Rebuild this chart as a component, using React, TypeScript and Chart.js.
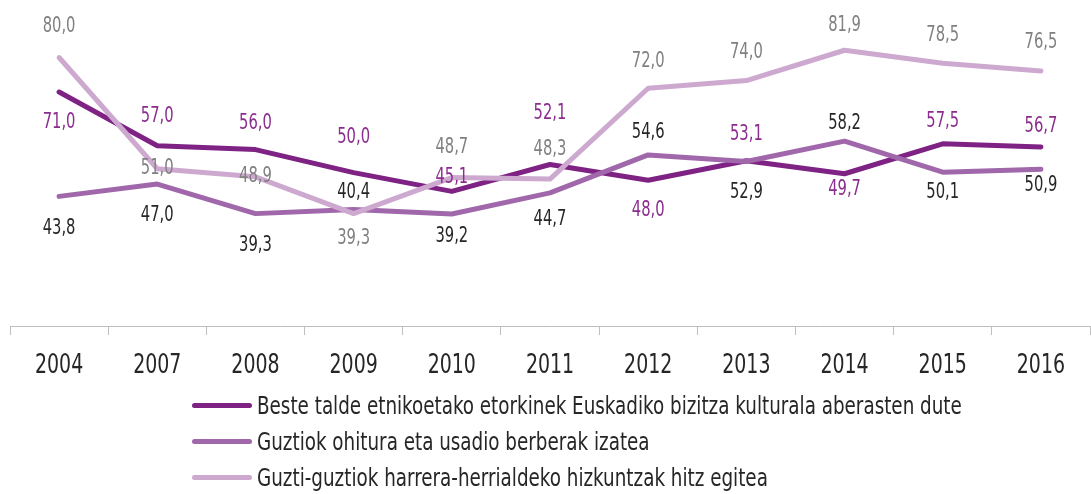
import React, { useEffect, useRef } from "react";
import { Chart, registerables } from "chart.js";

Chart.register(...registerables);

const years = ["2004", "2007", "2008", "2009", "2010", "2011", "2012", "2013", "2014", "2015", "2016"];

const seriesNames = [
  "Beste talde etnikoetako etorkinek Euskadiko bizitza kulturala aberasten dute",
  "Guztiok ohitura eta usadio berberak izatea",
  "Guzti-guztiok harrera-herrialdeko hizkuntzak hitz egitea",
];

const enrichCulture = [71.0, 57.0, 56.0, 50.0, 45.1, 52.1, 48.0, 53.1, 49.7, 57.5, 56.7];
const sameCustoms = [43.8, 47.0, 39.3, 40.4, 39.2, 44.7, 54.6, 52.9, 58.2, 50.1, 50.9];
const speakLanguages = [80.0, 51.0, 48.9, 39.3, 48.7, 48.3, 72.0, 74.0, 81.9, 78.5, 76.5];

const lineColors = ["#7e2283", "#a068ab", "#cda9d0"];
const labelColors = ["#8b2d8e", "#262626", "#808080"];
// vertical offsets (px) of each value label from its point
const labelOffsets = [
  [30, -29, -26, -35, -14, -51, 30, -26, 16, -22, -20],
  [32, 31, 32, -17, 23, 27, -22, 31, -18, 20, 16],
  [-31, 0, 0, 25, -30, -30, -27, -28, -25, -28, -28],
];

const FONT = "'DejaVu Sans Condensed', 'Liberation Sans Narrow', sans-serif";
const TEXT_SQUEEZE = 0.78;

function squeezedText(ctx: CanvasRenderingContext2D, text: string, x: number, y: number) {
  ctx.save();
  ctx.translate(x, y);
  ctx.scale(TEXT_SQUEEZE, 1);
  ctx.fillText(text, 0, 0);
  ctx.restore();
}

const labelsPlugin = {
  id: "valueLabels",
  afterDatasetsDraw(chart: any) {
    const ctx = chart.ctx as CanvasRenderingContext2D;
    ctx.save();
    ctx.font = `21px ${FONT}`;
    ctx.textAlign = "center";
    ctx.textBaseline = "middle";
    chart.data.datasets.forEach((ds: any, di: number) => {
      const meta = chart.getDatasetMeta(di);
      meta.data.forEach((pt: any, i: number) => {
        const v = ds.data[i] as number;
        ctx.fillStyle = labelColors[di];
        squeezedText(ctx, v.toFixed(1).replace(".", ","), pt.x, pt.y + labelOffsets[di][i]);
      });
    });
    // category labels of the x axis
    const xs = chart.scales.x;
    ctx.font = `27px ${FONT}`;
    ctx.fillStyle = "#262626";
    chart.data.labels.forEach((lab: string, i: number) => {
      squeezedText(ctx, lab, xs.getPixelForTick(i), xs.top + 40);
    });
    ctx.restore();
  },
};

export default function App() {
  const ref = useRef<HTMLCanvasElement | null>(null);

  useEffect(() => {
    if (!ref.current) return;
    const values = [enrichCulture, sameCustoms, speakLanguages];
    const chart = new Chart(ref.current, {
      type: "line",
      data: {
        labels: years,
        datasets: values.map((d, i) => ({
          label: seriesNames[i],
          data: d,
          borderColor: lineColors[i],
          backgroundColor: lineColors[i],
          borderWidth: 5,
          borderJoinStyle: "round",
          borderCapStyle: "round",
          pointRadius: 0,
          tension: 0,
          fill: false,
          order: 3 - i,
        })),
      },
      options: {
        animation: false,
        responsive: false,
        layout: { padding: { left: 10, right: 1, top: 0, bottom: 114 } },
        plugins: {
          legend: { display: false },
          tooltip: { enabled: false },
        },
        scales: {
          x: {
            offset: true,
            grid: {
              offset: true,
              drawOnChartArea: false,
              drawTicks: true,
              tickLength: 9,
              color: "#bfbfbf",
              lineWidth: 1,
            },
            border: { display: true, color: "#bfbfbf", width: 1 },
            ticks: { display: false },
            afterFit(scale: any) {
              scale.height = 54;
            },
          },
          y: { display: false, min: 10, max: 95 },
        },
      },
      plugins: [labelsPlugin],
    } as any);
    return () => chart.destroy();
  }, []);

  return (
    <div style={{ position: "absolute", left: 0, top: 0, width: 1091, height: 494, background: "#fff", overflow: "hidden" }}>
      <canvas ref={ref} width={1091} height={494} style={{ position: "absolute", left: 0, top: 0 }} />
      <div style={{ position: "absolute", left: 192, top: 387, fontFamily: FONT, fontSize: 25, color: "#262626" }}>
        {seriesNames.map((name, i) => (
          <div key={name} style={{ display: "flex", alignItems: "center", height: 36, whiteSpace: "nowrap" }}>
            <span style={{ display: "inline-block", width: 60, height: 5, borderRadius: 3, background: lineColors[i], marginRight: 5, flex: "none" }} />
            <span style={{ display: "inline-block", transform: "scaleX(0.815)", transformOrigin: "0 50%" }}>{name}</span>
          </div>
        ))}
      </div>
    </div>
  );
}
